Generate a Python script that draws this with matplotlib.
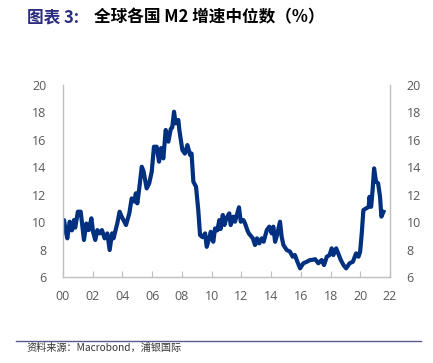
import matplotlib
matplotlib.use("Agg")
import matplotlib.pyplot as plt
from matplotlib.lines import Line2D

plt.rcParams['font.family'] = ['Noto Sans CJK SC', 'DejaVu Sans']

# ----- data (decimal year, median M2 growth %) -----
years = [
    2000.0, 2000.07, 2000.17, 2000.29, 2000.45, 2000.6, 2000.74, 2000.82, 2001.0, 2001.19,
    2001.28, 2001.41, 2001.57, 2001.73, 2001.91, 2002.02, 2002.17, 2002.31, 2002.46, 2002.62,
    2002.8, 2002.98, 2003.14, 2003.3, 2003.4, 2003.65, 2003.81, 2003.95, 2004.24, 2004.46,
    2004.62, 2004.8, 2004.9, 2005.0, 2005.13, 2005.3, 2005.42, 2005.63, 2005.8, 2005.97,
    2006.12, 2006.3, 2006.46, 2006.6, 2006.75, 2006.91, 2007.09, 2007.25, 2007.35, 2007.47,
    2007.58, 2007.76, 2007.83, 2008.03, 2008.2, 2008.37, 2008.55, 2008.65, 2008.77, 2008.95,
    2009.1, 2009.22, 2009.39, 2009.56, 2009.67, 2009.84, 2009.94, 2010.11, 2010.23, 2010.38,
    2010.52, 2010.6, 2010.75, 2010.86, 2011.0, 2011.19, 2011.28, 2011.46, 2011.57, 2011.73,
    2011.84, 2011.96, 2012.14, 2012.25, 2012.4, 2012.5, 2012.77, 2012.92, 2013.05, 2013.2,
    2013.37, 2013.5, 2013.71, 2013.88, 2014.04, 2014.15, 2014.27, 2014.4, 2014.6, 2014.71,
    2014.83, 2015.05, 2015.27, 2015.45, 2015.6, 2015.77, 2015.95, 2016.17, 2016.4, 2016.62,
    2016.74, 2016.96, 2017.18, 2017.4, 2017.56, 2017.75, 2017.93, 2018.08, 2018.19, 2018.38,
    2018.56, 2018.69, 2018.87, 2019.05, 2019.28, 2019.5, 2019.72, 2019.88, 2019.99, 2020.1,
    2020.21, 2020.39, 2020.57, 2020.62, 2020.73, 2020.83, 2020.93, 2021.06, 2021.2, 2021.33,
    2021.42, 2021.56,
]
m2_median = [
    9.42, 10.15, 9.42, 8.82, 10.03, 9.4, 10.15, 9.6, 10.76, 10.76,
    9.9, 8.7, 9.9, 9.42, 10.28, 9.3, 8.7, 9.42, 9.18, 9.42,
    8.82, 9.18, 7.97, 9.18, 8.82, 9.9, 10.76, 10.4, 9.79, 10.64,
    11.73, 11.5, 12.1, 11.37, 12.46, 14.04, 13.7, 12.46, 12.83, 13.68,
    15.5, 15.5, 14.41, 15.4, 14.65, 16.72, 15.87, 16.8, 16.9, 18.05,
    17.2, 17.45, 16.7, 15.26, 15.0, 15.62, 14.9, 15.0, 12.95, 12.58,
    10.88, 9.06, 8.9, 9.18, 8.2, 8.82, 9.3, 8.57, 9.54, 9.4,
    10.15, 9.5, 10.52, 9.79, 10.3, 10.64, 9.79, 10.4, 10.03, 10.64,
    11.08, 10.03, 10.15, 9.9, 9.42, 9.18, 8.82, 8.33, 8.82, 8.45,
    8.82, 8.57, 9.42, 9.67, 9.18, 9.67, 8.57, 9.06, 10.03, 8.94,
    8.33, 7.97, 7.85, 7.48, 7.6, 7.11, 6.63, 7.0, 7.11, 7.24,
    7.24, 7.3, 7.0, 7.24, 6.87, 7.48, 7.6, 8.09, 7.6, 8.09,
    7.6, 7.24, 6.87, 6.63, 7.0, 7.11, 7.72, 7.48, 7.84, 9.18,
    10.88, 11.0, 11.12, 11.85, 11.12, 12.34, 13.92, 12.95, 12.83, 11.85,
    10.4, 10.76,
]

x_ticks = list(range(2000, 2023, 2))
x_tick_labels = [f"{y % 100:02d}" for y in x_ticks]
y_ticks = list(range(6, 21, 2))

TITLE_PREFIX = "图表 3:"
TITLE_TEXT = "全球各国 M2 增速中位数（%）"
SOURCE_TEXT = "资料来源：Macrobond，浦银国际"

LINE_COLOR = "#00307f"
SPINE_COLOR = "#bfbfbf"
TICK_COLOR = "#595959"

W, H = 433, 363
fig = plt.figure(figsize=(W / 100, H / 100), dpi=100)
ax = fig.add_axes([63 / W, 1 - 277 / H, 327 / W, 192 / H])

ax.plot(years, m2_median, color=LINE_COLOR, linewidth=3.0, solid_joinstyle="round")

ax.set_xlim(2000, 2022)
ax.set_ylim(6, 20)
ax.set_xticks(x_ticks)
ax.set_xticklabels(x_tick_labels)
ax.set_yticks(y_ticks)

ax.tick_params(axis="x", direction="in", length=4, color=SPINE_COLOR,
               labelcolor=TICK_COLOR, labelsize=9, pad=9)
ax.tick_params(axis="y", length=0, labelcolor=TICK_COLOR, labelsize=9, pad=12,
               labelleft=True, labelright=True)

for side in ["left", "right", "bottom"]:
    ax.spines[side].set_color(SPINE_COLOR)
    ax.spines[side].set_linewidth(1.0)
ax.spines["top"].set_visible(False)

for lbl in ax.get_xticklabels() + ax.get_yticklabels():
    lbl.set_fontfamily(["Open Sans", "DejaVu Sans"])

# title
fig.text(27 / W, 1 - 17 / H, TITLE_PREFIX, color="#2b2b80", fontsize=12,
         fontweight="bold", va="center", ha="left")
fig.text(94 / W, 1 - 17 / H, TITLE_TEXT, color="black", fontsize=12,
         fontweight="bold", va="center", ha="left")

# footer rule and source
fig.add_artist(Line2D([16 / W, 421 / W], [1 - 340.5 / H, 1 - 340.5 / H],
                      transform=fig.transFigure, color="#5b5b8f", linewidth=1.0))
fig.text(26 / W, 1 - 348 / H, SOURCE_TEXT, color="#333333", fontsize=7.3,
         va="center", ha="left")

fig.savefig("out.png", dpi=100)
